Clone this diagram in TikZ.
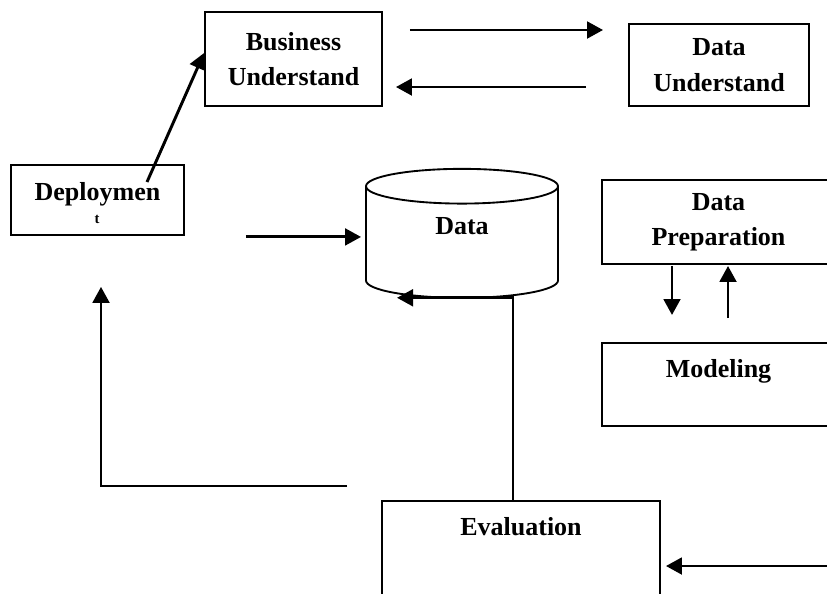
\documentclass[tikz,border=0pt]{standalone}
\usepackage{fontspec}
\setmainfont{Liberation Serif}
\usetikzlibrary{arrows.meta,calc,shapes.geometric}

\tikzset{
  box/.style={draw,line width=1.4pt,rectangle,align=center,inner sep=0pt,
    font=\fontsize{19.5}{26.5}\selectfont\bfseries},
  flow/.style={line width=2.2pt,-{Triangle[length=12pt,width=12.5pt]}},
}

\begin{document}
\begin{tikzpicture}[x=0.75pt,y=-0.75pt]
  \useasboundingbox (0,0) rectangle (827,593);
  \clip (0,0) rectangle (827,593);
  % boxes
  \node[box,minimum width=132.75pt,minimum height=70.5pt] (bu) at (293.5,59) {Business\\Understand};
  \node[box,minimum width=135pt,minimum height=61.5pt] (du) at (719,65) {Data\\Understand};
  \node[box,minimum width=129.75pt,text height=27pt,text depth=25.5pt,anchor=north] (dep) at (97.5,164) {Deploymen};
  \node[font=\fontsize{11}{11}\selectfont\bfseries,inner sep=0pt] (depmark) at (97,219) {t};
  \node[box,draw,cylinder,shape border rotate=90,aspect=0.65,minimum width=144pt,minimum height=96.75pt] (db) at (462,242.5) {Data\\[-1pt]};
  \node[box,minimum width=174.75pt,minimum height=63pt] (dp) at (718.5,222) {Data\\Preparation};
  \node[box,minimum width=174.75pt,text height=26.25pt,text depth=36pt,anchor=north] (mod) at (718.5,342) {Modeling};
  \node[box,minimum width=208.5pt,text height=26.25pt,text depth=75pt,anchor=north] (ev) at (521,500) {Evaluation};
  \coordinate (rim) at (827,566);

  % connectors
  \draw[flow] ($(bu.east)+(27,-29)$) -- ($(du.west)+(-25,-35)$);
  \draw[flow] ($(du.west)+(-42,22)$) -- ($(bu.east)+(13,28)$);
  \draw[flow] ($(dep.north)+(49.5,18)$) -- ($(bu.west)+(0,-6)$);
  \draw[flow,shorten >=3pt] ($(dep.east)+(61,37)$) coordinate (a) -- (a -| db.west);
  \draw[flow] ($(ev.north)+(-8,0)$) |- ($(db.south)+(-65,-1)$);
  \draw[flow] ($(ev.north west)+(-34,-14)$) -| ($(dep.south)+(3.5,51)$);
  \draw[flow] ($(dp.south)+(-46.5,1)$) -- ($(mod.north)+(-46.5,-27)$);
  \draw[flow] ($(mod.north)+(9.5,-24)$) -- ($(dp.south)+(9.5,1)$);
  \draw[flow,shorten >=3.75pt] (rim) -- (rim -| ev.east);
\end{tikzpicture}
\end{document}
